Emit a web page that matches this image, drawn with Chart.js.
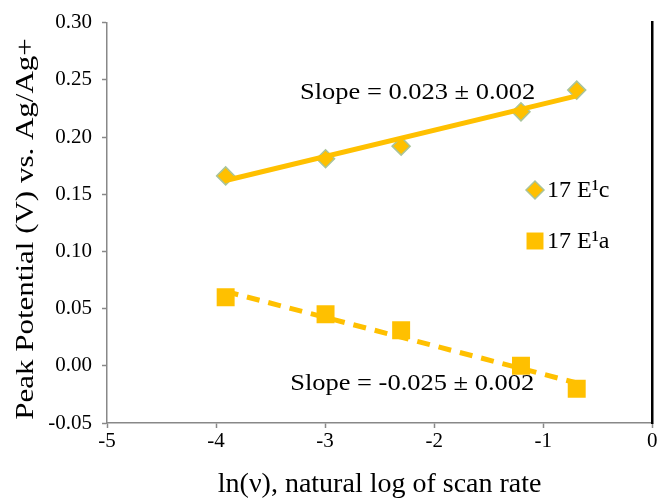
<!DOCTYPE html>
<html>
<head>
<meta charset="utf-8">
<script src="https://cdn.jsdelivr.net/npm/chart.js@4.4.1/dist/chart.umd.min.js"></script>
<style>
  html, body { margin: 0; padding: 0; background: #fff; }
  #wrap { width: 665px; height: 501px; }
</style>
</head>
<body>
<div id="wrap"><canvas id="mycanvas" width="665" height="501"></canvas></div>
<script>
// ln(scan rate) values
var lnRate = [-3.912, -2.996, -2.303, -1.204, -0.693];
// peak potentials
var peakC = [0.166, 0.181, 0.192, 0.222, 0.241];
var peakA = [0.060, 0.045, 0.031, 0.000, -0.020];
// trend line end points
var fitX = [-3.912, -0.693];
var fitC = [0.162, 0.236];
var fitA = [0.065, -0.015];

var seriesNames = ["17 E\u00b9c", "17 E\u00b9a"];
var slopeTexts = ["Slope = 0.023 \u00b1 0.002", "Slope = -0.025 \u00b1 0.002"];
var xTicks = [-5, -4, -3, -2, -1, 0];
var yTitle = "Peak Potential (V) vs. Ag/Ag+";

var gold = "#FFC000";
var serif = "'Liberation Serif', 'Times New Roman', serif";

function toXY(xs, ys) {
  var out = [];
  for (var i in xs) {
    out.push({ x: xs[i], y: ys[i] });
  }
  return out;
}

var chartdata = {
  datasets: [
    {
      label: seriesNames[0],
      data: toXY(lnRate, peakC),
      showLine: false,
      pointStyle: "rectRot",
      pointRadius: 9,
      pointBorderWidth: 1.5,
      backgroundColor: gold,
      borderColor: "#A9C49A",
      order: 2
    },
    {
      label: seriesNames[1],
      data: toXY(lnRate, peakA),
      showLine: false,
      pointStyle: "rect",
      pointRadius: 12.7,
      pointBorderWidth: 0,
      backgroundColor: gold,
      borderColor: gold,
      order: 1
    },
    {
      label: "fitC",
      data: toXY(fitX, fitC),
      showLine: true,
      borderColor: gold,
      borderWidth: 5,
      pointRadius: 0,
      fill: false,
      order: 1
    },
    {
      label: "fitA",
      data: toXY(fitX, fitA),
      showLine: true,
      borderColor: gold,
      borderWidth: 5,
      borderDash: [13, 9],
      pointRadius: 0,
      fill: false,
      order: 2
    }
  ]
};

// slope labels, y title and in-plot legend
var annotate = {
  id: "annotate",
  afterDatasetsDraw: function(chart) {
    var ctx = chart.ctx;
    var xs = chart.scales.x, ys = chart.scales.y;
    ctx.save();
    ctx.fillStyle = "#000";
    ctx.font = "23px " + serif;
    ctx.textBaseline = "middle";
    ctx.textAlign = "left";
    var pos = [[-3.23, 0.2385], [-3.32, -0.0155]];
    for (var k = 0; k < 2; k++) {
      ctx.save();
      ctx.translate(xs.getPixelForValue(pos[k][0]), ys.getPixelForValue(pos[k][1]));
      ctx.scale(1.15, 1);
      ctx.fillText(slopeTexts[k], 0, 0);
      ctx.restore();
    }

    // y axis title
    ctx.save();
    ctx.translate(26, 229);
    ctx.rotate(-Math.PI / 2);
    ctx.scale(1.24, 1);
    ctx.textAlign = "center";
    ctx.font = "25px " + serif;
    ctx.fillText(yTitle, 0, 0);
    ctx.restore();

    // legend
    var lx = 535;
    var rows = [190, 241];
    for (var i = 0; i < 2; i++) {
      var ds = chart.data.datasets[i];
      var r = i == 0 ? 9 : 12;
      ctx.fillStyle = ds.backgroundColor;
      ctx.strokeStyle = ds.borderColor;
      ctx.lineWidth = ds.pointBorderWidth;
      Chart.helpers.drawPoint(ctx, { pointStyle: ds.pointStyle, radius: r, borderWidth: ds.pointBorderWidth }, lx, rows[i]);
      ctx.fillStyle = "#000";
      ctx.font = "24px " + serif;
      ctx.fillText(seriesNames[i], 547, rows[i] + 1);
    }
    ctx.restore();
  }
};

var ctx = document.getElementById("mycanvas");

var LineGraph = new Chart(ctx, {
  type: "scatter",
  data: chartdata,
  plugins: [annotate],
  options: {
    responsive: false,
    animation: false,
    devicePixelRatio: 1,
    layout: { padding: { top: 20, right: 0, left: 0, bottom: 0 } },
    scales: {
      x: {
        type: "linear",
        min: -5,
        max: 0,
        afterBuildTicks: function(axis) {
          axis.ticks = xTicks.map(function(v) { return { value: v }; });
        },
        afterFit: function(axis) { axis.height = 78; },
        grid: { drawOnChartArea: false, color: "#888", tickLength: 5, tickWidth: 1.5 },
        border: { color: "#888", width: 1.5 },
        ticks: {
          color: "#000",
          padding: 1,
          maxRotation: 0,
          font: { family: serif, size: 21 }
        },
        title: {
          display: true,
          text: "ln(\u03bd), natural log of scan rate",
          color: "#000",
          font: { family: serif, size: 28 },
          padding: { top: 4, bottom: 0 }
        }
      },
      y: {
        min: -0.05,
        max: 0.30,
        afterFit: function(axis) { axis.width = 107; },
        grid: { drawOnChartArea: false, color: "#888", tickLength: 5, tickWidth: 1.5 },
        border: { color: "#888", width: 1.5 },
        ticks: {
          stepSize: 0.05,
          color: "#000",
          padding: 10,
          font: { family: serif, size: 21 },
          callback: function(v) {
            if (Math.abs(v) < 1e-9) { v = 0; }
            return Number(v).toFixed(2);
          }
        },
        title: { display: false }
      },
      y2: {
        position: "right",
        min: -0.05,
        max: 0.30,
        afterFit: function(axis) { axis.width = 9; },
        grid: { display: false },
        border: { color: "#000", width: 2.5 },
        ticks: { display: false }
      }
    },
    plugins: {
      legend: { display: false },
      tooltip: { enabled: false }
    }
  }
});
</script>
</body>
</html>
